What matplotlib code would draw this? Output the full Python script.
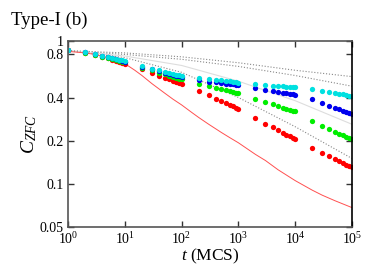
import matplotlib
matplotlib.use("Agg")
import matplotlib.pyplot as plt

plt.rcParams['font.family'] = ['Liberation Serif', 'DejaVu Serif']
plt.rcParams['mathtext.fontset'] = 'custom'
plt.rcParams['mathtext.rm'] = 'Liberation Serif'
plt.rcParams['mathtext.it'] = 'Liberation Serif:italic'

# times (MCS) of the measured points
t_pts = [1, 2, 3, 4, 5, 6, 7, 8, 9, 10,
         20, 30, 40, 50, 60, 70, 80, 90, 100,
         200, 300, 400, 500, 600, 700, 800, 900, 1000,
         2000, 3000, 4000, 5000, 6000, 7000, 8000, 9000, 10000,
         20000, 30000, 40000, 50000, 60000, 70000, 80000, 90000, 100000]

red_pts = [0.86, 0.82, 0.79, 0.765, 0.75, 0.735, 0.72, 0.71, 0.70, 0.69,
           0.63, 0.593, 0.569, 0.550, 0.536, 0.524, 0.514, 0.505, 0.497,
           0.445, 0.414, 0.393, 0.377, 0.365, 0.355, 0.347, 0.339, 0.333,
           0.287, 0.263, 0.248, 0.236, 0.227, 0.220, 0.214, 0.209, 0.204,
           0.177, 0.164, 0.155, 0.1485, 0.1434, 0.1392, 0.1357, 0.1327, 0.130]
green_pts = [0.86, 0.825, 0.795, 0.773, 0.758, 0.745, 0.733, 0.722, 0.713, 0.705,
             0.648, 0.618, 0.598, 0.582, 0.570, 0.560, 0.551, 0.543, 0.537,
             0.497, 0.478, 0.466, 0.456, 0.448, 0.442, 0.436, 0.431, 0.427,
             0.389, 0.370, 0.358, 0.348, 0.340, 0.334, 0.329, 0.324, 0.320,
             0.272, 0.253, 0.240, 0.231, 0.2235, 0.2174, 0.2123, 0.2079, 0.204]
blue_pts = [0.86, 0.828, 0.80, 0.778, 0.764, 0.751, 0.74, 0.73, 0.721, 0.713,
            0.655, 0.628, 0.610, 0.597, 0.586, 0.576, 0.569, 0.562, 0.556,
            0.527, 0.517, 0.511, 0.506, 0.501, 0.498, 0.495, 0.492, 0.490,
            0.463, 0.451, 0.443, 0.436, 0.431, 0.427, 0.423, 0.420, 0.417,
            0.389, 0.366, 0.351, 0.339, 0.330, 0.323, 0.316, 0.311, 0.306]
cyan_pts = [0.86, 0.83, 0.80, 0.78, 0.77, 0.755, 0.745, 0.735, 0.727, 0.72,
            0.66, 0.635, 0.618, 0.605, 0.594, 0.586, 0.578, 0.572, 0.566,
            0.55, 0.539, 0.532, 0.526, 0.522, 0.518, 0.515, 0.512, 0.509,
            0.497, 0.490, 0.485, 0.481, 0.478, 0.476, 0.474, 0.472, 0.470,
            0.457, 0.445, 0.436, 0.430, 0.424, 0.420, 0.416, 0.413, 0.410]

# red solid reference curve
t_line = [1, 2, 3, 5, 7, 10, 15, 20, 30, 50, 70, 100, 150, 200, 300, 500, 700,
          1000, 2000, 3000, 5000, 10000, 20000, 30000, 50000, 70000, 100000]
red_line = [0.84, 0.82, 0.80, 0.76, 0.73, 0.69, 0.62, 0.57, 0.50, 0.43, 0.39,
            0.355, 0.315, 0.29, 0.26, 0.228, 0.21, 0.193, 0.16, 0.145, 0.125,
            0.105, 0.09, 0.083, 0.076, 0.072, 0.068]

# gray guide curves
t_gray = [1, 10, 100, 1000, 10000, 100000]
gray1 = [0.85, 0.82, 0.77, 0.70, 0.62, 0.56]
gray2 = [0.85, 0.80, 0.74, 0.66, 0.57, 0.48]
gray3 = [0.85, 0.78, 0.67, 0.52, 0.38, 0.26]
gray4 = [0.85, 0.76, 0.60, 0.40, 0.25, 0.15]

fig = plt.figure(figsize=(3.74, 2.67), dpi=100)
ax = fig.add_axes([0.182, 0.151, 0.759, 0.697])

ax.plot(t_gray, gray1, ls=':', color='#888888', lw=0.8)
ax.plot(t_gray, gray2, ls=':', color='#888888', lw=0.8)
ax.plot(t_gray, gray3, ls='-', color='#dddddd', lw=0.8)
ax.plot(t_gray, gray4, ls=':', color='#888888', lw=0.8)
ax.plot(t_line, red_line, ls='-', color='#ff5050', lw=0.7)

ms = 3.8
ax.plot(t_pts, red_pts, 'o', color='#ff0000', ms=ms, mec='none')
ax.plot(t_pts, green_pts, 'o', color='#00ee00', ms=ms, mec='none')
ax.plot(t_pts, blue_pts, 'o', color='#0000ee', ms=ms, mec='none')
ax.plot(t_pts, cyan_pts, 'o', color='#00e0e0', ms=ms, mec='none')

ax.set_xscale('log')
ax.set_yscale('log')
ax.set_xlim(1, 1e5)
ax.set_ylim(0.05, 1)
ax.set_xticks([1, 10, 100, 1000, 10000, 100000])
ax.set_xticklabels([r'$10^{0}$', r'$10^{1}$', r'$10^{2}$', r'$10^{3}$', r'$10^{4}$', r'$10^{5}$'])
ax.set_yticks([0.05, 0.1, 0.2, 0.4, 0.8, 1])
ax.set_yticklabels(['0.05', '0.1', '0.2', '0.4', '0.8', '1'])
ax.minorticks_off()
ax.tick_params(direction='in', top=True, right=True, length=4, width=1,
               labelsize=10, pad=3, color='#333333')
for s in ax.spines.values():
    s.set_linewidth(1.2)
    s.set_color('#555555')
ax.spines['right'].set_color('black')

ax.set_xlabel(r'$t$ (MCS)', fontsize=12.5, labelpad=0)
ax.set_ylabel(r'$C_{ZFC}$', fontsize=14, labelpad=1)
fig.text(0.03, 0.905, 'Type-I (b)', fontsize=13.5)

fig.savefig('out.png', dpi=100)
